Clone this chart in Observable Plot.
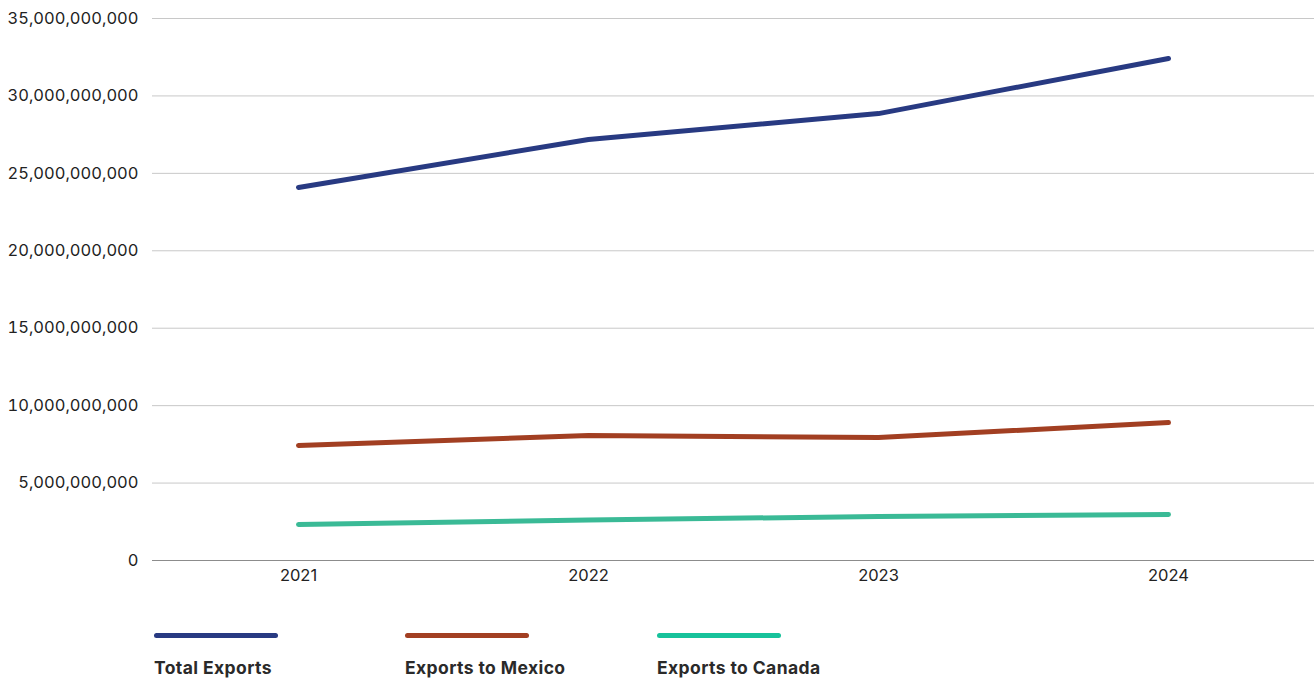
<!DOCTYPE html>
<html>
<head>
<meta charset="utf-8">
<script src="https://cdn.jsdelivr.net/npm/d3@7"></script>
<script src="https://cdn.jsdelivr.net/npm/@observablehq/plot@0.6"></script>
<style>
  html, body { margin: 0; padding: 0; background: #fff; }
  #chart svg { display: block; }
  .legend { position: relative; height: 79px; font-family: Inter, Roboto, sans-serif; }
  .item { position: absolute; top: 33px; }
  .sw { width: 124px; height: 5px; border-radius: 3px; }
  .lab { margin-top: 19px; font-weight: 700; font-size: 17.5px; letter-spacing: 0.4px; color: #2a2a2a; }
</style>
</head>
<body>
<div id="chart"></div>
<div class="legend" id="legend"></div>
<script>
const years = ["2021", "2022", "2023", "2024"];
const seriesNames = ["Total Exports", "Exports to Mexico", "Exports to Canada"];
const totalExports = [24.09e9, 27.19e9, 28.86e9, 32.42e9];
const mexicoExports = [7.43e9, 8.07e9, 7.94e9, 8.91e9];
const canadaExports = [2.32e9, 2.62e9, 2.84e9, 2.97e9];
const yTicks = [0, 5e9, 10e9, 15e9, 20e9, 25e9, 30e9, 35e9];
const lineColors = ["#283a82", "#a23f22", "#3aba96"];
const legendColors = ["#283a82", "#a23f22", "#17c29b"];

const allSeries = [totalExports, mexicoExports, canadaExports];
const data = [];
seriesNames.forEach((s, i) => years.forEach((y, j) => data.push({series: s, year: y, value: allSeries[i][j]})));

const fmt = d3.format(",");
const chart = Plot.plot({
  width: 1314,
  height: 600,
  marginTop: 18,
  marginBottom: 40,
  marginLeft: 152,
  marginRight: 0,
  style: {fontFamily: "Inter, Roboto, sans-serif", fontSize: "16.5px", color: "#222"},
  x: {type: "point", domain: years, padding: 0.5, label: null},
  y: {domain: [0, 35e9], label: null},
  color: {domain: seriesNames, range: lineColors},
  marks: [
    Plot.gridY(yTicks, {stroke: "#c8c8c8", strokeOpacity: 1}),
    Plot.ruleY([0], {stroke: "#8c8c8c", strokeWidth: 1}),
    Plot.axisY({ticks: yTicks, tickFormat: d => fmt(d), tickSize: 0, tickPadding: 14, label: null}),
    Plot.axisX({tickSize: 0, tickPadding: 9, label: null}),
    Plot.line(data, {x: "year", y: "value", z: "series", stroke: "series", strokeWidth: 5, strokeLinecap: "round", strokeLinejoin: "round"})
  ]
});
document.getElementById("chart").appendChild(chart);

const legend = document.getElementById("legend");
const lefts = [154, 405, 657];
seriesNames.forEach((s, i) => {
  const item = document.createElement("div");
  item.className = "item";
  item.style.left = lefts[i] + "px";
  const sw = document.createElement("div");
  sw.className = "sw";
  sw.style.background = legendColors[i];
  const lab = document.createElement("div");
  lab.className = "lab";
  lab.textContent = s;
  item.appendChild(sw);
  item.appendChild(lab);
  legend.appendChild(item);
});
</script>
</body>
</html>
